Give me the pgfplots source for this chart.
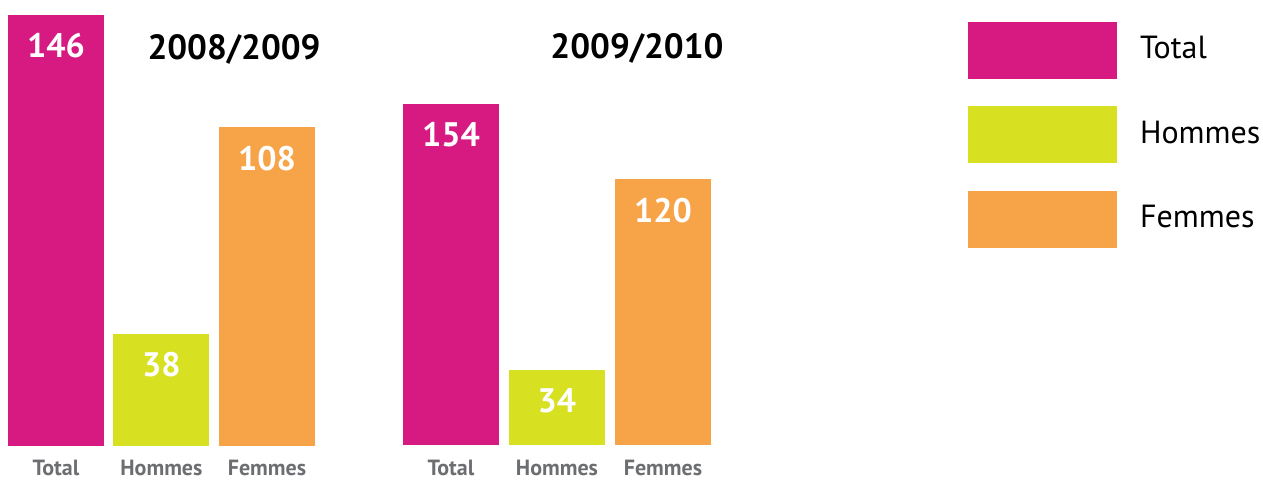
\documentclass[border=0pt]{standalone}
\usepackage{pgfplots}
\pgfplotsset{compat=1.18}
\usepackage{fontspec}
\setmainfont{PT Sans}
\definecolor{cTot}{HTML}{D71A82}
\definecolor{cHom}{HTML}{D7E021}
\definecolor{cFem}{HTML}{F7A449}
\definecolor{cGray}{HTML}{6D6E71}
\pgfplotsset{
 grp/.style={
  scale only axis, ybar, bar width=96pt, bar shift=0pt,
  ymin=0, xmin=-0.53, xmax=2.5, enlargelimits=false,
  axis line style={draw=none}, major tick style={draw=none},
  ytick=\empty, xtick={0,1,2}, xticklabels={Total,Hommes,Femmes},
  xticklabel style={anchor=center, inner sep=0pt, text depth=0pt, font=\fontsize{22}{26}\selectfont\bfseries, text=cGray},
  nodes near coords,
  /pgf/number format/assume math mode=true,
  every node near coord/.append style={anchor=center, yshift=-31pt, font=\fontsize{34}{38}\selectfont\bfseries, text=white},
  clip=false,
  title style={anchor=center, font=\fontsize{35}{40}\selectfont\bfseries},
 }
}
\begin{document}
\begin{tikzpicture}
\useasboundingbox (0,0) rectangle (1263pt,480pt);
\begin{axis}[grp, at={(0pt,34pt)}, anchor=south west, width=319.7pt, height=431pt, ymax=146,
  xticklabel style={yshift=-17.5pt},
  title={2008/2009}, title style={at={(0.732,0.905)}}]
\addplot[fill=cTot, draw=none] coordinates {(0,146)};
\addplot[fill=cHom, draw=none] coordinates {(1,38)};
\addplot[fill=cFem, draw=none] coordinates {(2,108)};
\end{axis}
\begin{axis}[grp, at={(394.8pt,35pt)}, anchor=south west, width=321.2pt, height=341pt, ymax=154,
  xticklabel style={yshift=-18.5pt},
  title={2009/2010}, title style={at={(0.754,1.146)}},
  legend image code/.code={\fill[#1] (0pt,-30.5pt) rectangle (149pt,26.5pt);},
  legend cell align=left,
  legend style={at={(1.7846,1.2405)}, anchor=north west, draw=none, fill=none, inner sep=0pt, outer sep=0pt,
    row sep=27.5pt, font=\fontsize{32}{36}\selectfont,
    /tikz/every odd column/.append style={column sep=23pt}, nodes={inner sep=0pt}}]
\addplot[fill=cTot, draw=none] coordinates {(0,154)};
\addplot[fill=cHom, draw=none] coordinates {(1,34)};
\addplot[fill=cFem, draw=none] coordinates {(2,120)};
\legend{Total,Hommes,Femmes}
\end{axis}
\end{tikzpicture}
\end{document}
